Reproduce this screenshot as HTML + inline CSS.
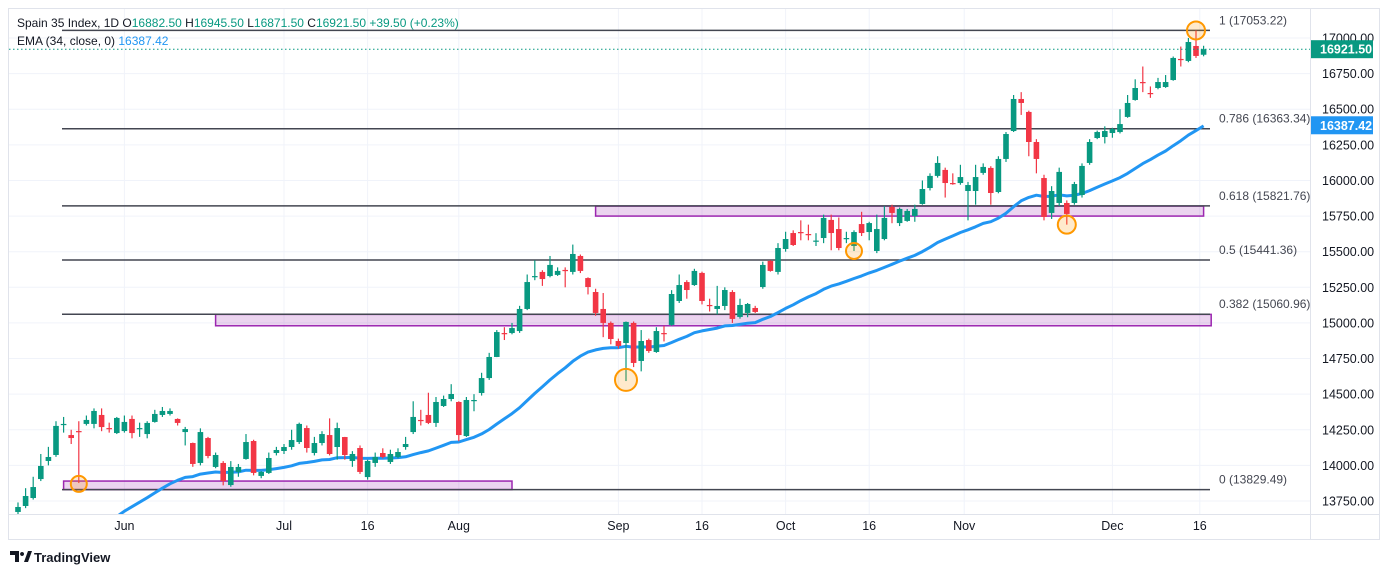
<!DOCTYPE html>
<html><head><meta charset="utf-8"><style>
html,body{margin:0;background:#fff;font-family:"Liberation Sans",sans-serif;width:1388px;height:575px;overflow:hidden;}
#wrap{position:relative;width:1388px;height:575px;overflow:hidden;}
svg{display:block;}
svg text{font-family:"Liberation Sans",sans-serif;}
</style></head><body>
<div id="wrap">
<svg id="chart" width="1388" height="575"></svg>
</div>
<script>
const opens=[13673,13715,13771,13904,14031,14073,14284,14213,14241,14291,14291,14354,14262,14227,14241,14326,14255,14220,14305,14354,14361,14326,14234,14157,14017,14192,13989,14017,13862,13954,14045,14171,13926,13947,14087,14101,14129,14164,14262,14087,14157,14213,14129,14199,14031,14122,13918,14017,14087,14024,14059,14129,14234,14319,14354,14298,14417,14466,14445,14206,14452,14508,14613,14761,14929,14929,14943,15098,15322,15358,15329,15337,15372,15358,15470,15315,15217,15098,15000,14873,14859,15000,14733,14880,14796,14929,14986,15154,15287,15266,15351,15126,15098,15119,15217,15042,15070,15105,15252,15435,15358,15519,15631,15638,15624,15575,15596,15723,15659,15593,15540,15694,15638,15505,15589,15814,15701,15716,15751,15835,15947,16032,16074,15982,15982,15926,15926,16053,16088,15919,16151,16347,16572,16481,16270,16017,15772,15842,15842,15842,15898,16123,16298,16305,16333,16340,16446,16565,16691,16614,16649,16656,16705,16853,16839,16944,16882.5];
const closes=[13708,13785,13848,13996,14059,14277,14291,14192,14234,14319,14382,14269,14259,14333,14305,14227,14262,14298,14361,14382,14382,14298,14255,14010,14234,14066,14073,13890,13989,13989,14164,13947,13954,14052,14108,14129,14178,14291,14122,14157,14220,14080,14262,14073,14080,13954,14031,14059,14059,14080,14094,14150,14340,14312,14298,14445,14466,14501,14213,14459,14459,14613,14761,14936,14922,14964,15098,15287,15329,15308,15407,15365,15368,15484,15365,15252,15070,15000,14887,14838,15007,14719,14873,14803,14943,14922,15203,15266,15231,15365,15154,15119,15119,15231,15028,15126,15133,15077,15407,15365,15526,15589,15547,15634,15620,15578,15737,15631,15526,15596,15638,15631,15701,15659,15737,15772,15800,15786,15800,15940,16032,16123,15982,15979,16024,15968,16024,16095,15912,16151,16326,16572,16544,16270,16151,15744,15926,16060,15765,15975,16102,16270,16340,16347,16361,16396,16544,16649,16688,16610,16691,16691,16860,16849,16972,16874,16921.5];
const highs=[13740,13840,13920,14080,14130,14310,14340,14250,14310,14350,14400,14400,14300,14340,14350,14350,14300,14310,14390,14410,14400,14330,14270,14160,14260,14200,14090,14030,14030,14010,14220,14180,13960,14090,14130,14150,14250,14300,14280,14200,14240,14330,14300,14200,14100,14140,14040,14090,14120,14110,14120,14200,14450,14390,14510,14480,14490,14570,14450,14480,14500,14650,14790,14950,14970,15000,15120,15340,15440,15370,15470,15390,15390,15550,15480,15320,15240,15210,15010,14890,15010,15010,14950,14890,14970,14980,15230,15340,15300,15380,15360,15170,15260,15250,15230,15170,15140,15120,15430,15440,15560,15640,15650,15720,15690,15630,15760,15760,15740,15640,15650,15780,15710,15760,15820,15830,15810,15800,15830,16000,16050,16170,16090,16050,16110,15990,16110,16120,16100,16170,16340,16600,16620,16490,16290,16040,15960,16090,15860,15990,16120,16290,16350,16380,16370,16500,16600,16710,16800,16660,16720,16740,16870,16940,17000,17053,16945.5];
const lows=[13650,13700,13760,13890,14000,14060,14230,14150,13876,14280,14260,14240,14230,14220,14230,14190,14200,14190,14300,14340,14350,14280,14140,13990,14000,14050,13980,13860,13850,13920,14040,13930,13910,13940,14070,14080,14110,14150,14090,14070,14140,14070,14040,14040,13990,13940,13900,13990,14050,14010,14050,14110,14220,14280,14290,14270,14410,14450,14170,14200,14380,14490,14600,14760,14880,14920,14930,15090,15300,15260,15320,15330,15250,15340,15350,15200,15050,14900,14850,14820,14592,14690,14660,14790,14790,14870,14980,15140,15170,15260,15130,15080,15060,15090,15000,15030,15040,15070,15240,15360,15340,15500,15540,15580,15580,15540,15560,15510,15510,15560,15505,15610,15580,15490,15580,15700,15680,15710,15710,15830,15930,16020,15880,15970,15970,15720,15830,16040,15830,15910,16130,16340,16460,16170,16050,15720,15730,15820,15690,15830,15880,16110,16290,16260,16300,16330,16440,16560,16620,16580,16640,16650,16700,16800,16830,16860,16871.5];
const emaSeed=12950;
const priceTicks=[13750,14000,14250,14500,14750,15000,15250,15500,15750,16000,16250,16500,16750,17000];
const timeLabels=["Jun","Jul","16","Aug","Sep","16","Oct","16","Nov","Dec","16"];
const timeLabelBars=[14,35,46,58,79,90,101,112,124.5,144,155.5];
const fibLevels=[1,0.786,0.618,0.5,0.382,0];
const fibPrices=[17053.22,16363.34,15821.76,15441.36,15060.96,13829.49];
const zoneTops=[13890,15060,15820];
const zoneBottoms=[13830,14980,15750];
const zoneStartBars=[6,26,76];
const zoneEndBars=[65,157,156];
const markBars=[8,80,110,138,155];
const markPrices=[13870,14600,15505,15690,17053];
const markRadii=[8,11,8,9,9];

const NS="http://www.w3.org/2000/svg";
const svg=document.getElementById('chart');
const yS=p=>501-(p-13750)*0.14246;
const xS=i=>18+i*7.6;
function mk(t,a,parent){const e=document.createElementNS(NS,t);for(const k in a)e.setAttribute(k,a[k]);(parent||svg).appendChild(e);return e;}

let fr=mk('rect',{x:8.5,y:8.5,width:1371,height:531,fill:'none',stroke:'#e0e3eb'});


const grid=mk('g',{});


priceTicks.forEach(p=>{mk('line',{x1:9,x2:1310,y1:yS(p),y2:yS(p),stroke:'#f0f3fa'},grid);});
timeLabelBars.forEach(b=>{mk('line',{x1:xS(b),x2:xS(b),y1:9,y2:514,stroke:'#f0f3fa'},grid);});
mk('line',{x1:1310.5,x2:1310.5,y1:9,y2:540,stroke:'#e0e3eb'});
mk('line',{x1:9,x2:1380,y1:514.5,y2:514.5,stroke:'#e0e3eb'});
const yAx=mk('g',{});


priceTicks.forEach(p=>{const t=mk('text',{x:1322,y:yS(p)+4.5,'font-size':12.5,fill:'#131722'},yAx);t.textContent=p.toFixed(2);

});
const xAx=mk('g',{});


timeLabels.forEach((l,i)=>{const t=mk('text',{x:xS(timeLabelBars[i]),y:530,'font-size':12.5,fill:'#131722','text-anchor':'middle'},xAx);t.textContent=l;

});

zoneTops.forEach((zt,i)=>{const r=mk('rect',{x:xS(zoneStartBars[i]),y:yS(zt),width:xS(zoneEndBars[i])-xS(zoneStartBars[i]),height:yS(zoneBottoms[i])-yS(zt),fill:'rgba(156,39,176,0.2)',stroke:'#9c27b0','stroke-width':1.5});

});
fibPrices.forEach((p,i)=>{const l=mk('line',{x1:62,x2:1210,y1:yS(p),y2:yS(p),stroke:'#434651','stroke-width':1.5});


const t=mk('text',{x:1219,y:yS(p)-6,'font-size':12,fill:'#434651'});t.textContent=fibLevels[i]+' ('+p.toFixed(2)+')';

});

let e=emaSeed;const a=2/35;let pts=[];
closes.forEach((c,i)=>{e=e+a*(c-e);pts.push(xS(i).toFixed(1)+','+yS(e).toFixed(1));});
const cp=mk('clipPath',{id:'pc'});mk('rect',{x:9,y:9,width:1301,height:505},cp);
const ema=mk('polyline',{points:pts.join(' '),fill:'none',stroke:'#2196f3','stroke-width':3,'clip-path':'url(#pc)','stroke-linejoin':'round'});



const cg=mk('g',{'clip-path':'url(#pc)'});


opens.forEach((o,i)=>{const c=closes[i];const col=c>=o?'#089981':'#f23645';const x=xS(i);
const g=mk('g',{},cg);


mk('line',{x1:x,x2:x,y1:yS(highs[i]),y2:yS(lows[i]),stroke:col,'stroke-width':1.2},g);
const t=Math.min(yS(o),yS(c)),h=Math.max(1.2,Math.abs(yS(o)-yS(c)));
mk('rect',{x:x-2.8,y:t,width:5.6,height:h,fill:col},g);});

markBars.forEach((b,i)=>{const m=mk('circle',{cx:xS(b),cy:yS(markPrices[i]),r:markRadii[i],fill:'rgba(255,152,0,0.2)',stroke:'#ff9800','stroke-width':2});

});

const lc=closes[closes.length-1];
mk('line',{x1:9,x2:1310,y1:yS(lc),y2:yS(lc),stroke:'#089981','stroke-dasharray':'1.5,2.5'});
const b1=mk('rect',{x:1311,y:yS(lc)-9,width:62,height:18,fill:'#089981'});


let tt=mk('text',{x:1320,y:yS(lc)+4.5,'font-size':12.5,fill:'#fff','font-weight':'bold'});tt.textContent=lc.toFixed(2);
const emaShown=16387.42;
const b2=mk('rect',{x:1311,y:yS(emaShown)-9,width:62,height:18,fill:'#2196f3'});


tt=mk('text',{x:1320,y:yS(emaShown)+4.5,'font-size':12.5,fill:'#fff','font-weight':'bold'});tt.textContent=emaShown.toFixed(2);

const lg=mk('text',{x:17,y:27,'font-size':12,fill:'#131722'});


lg.setAttribute('xml:space','preserve');
lg.innerHTML='Spain 35 Index, 1D  O<tspan fill="#089981">16882.50</tspan>  H<tspan fill="#089981">16945.50</tspan>  L<tspan fill="#089981">16871.50</tspan>  C<tspan fill="#089981">16921.50  +39.50 (+0.23%)</tspan>';
const lg2=mk('text',{x:17,y:45,'font-size':12,fill:'#131722'});


lg2.setAttribute('xml:space','preserve');
lg2.innerHTML='EMA (34, close, 0)  <tspan fill="#2196f3">16387.42</tspan>';
const lo=mk('g',{});


mk('path',{d:'M10 551h9v11h-4v-7h-5z M22 552a2 2 0 1 0 0.1 0z M24 562l4-11h4l-4 11z',fill:'#131722'},lo);
tt=mk('text',{x:34,y:562,'font-size':13,fill:'#131722','font-weight':'bold'},lo);tt.textContent='TradingView';
</script>
</body></html>
